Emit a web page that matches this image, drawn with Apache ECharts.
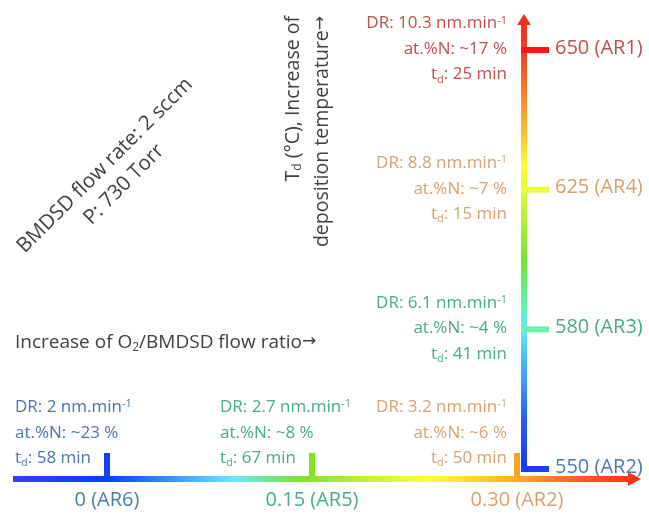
<!DOCTYPE html>
<html>
<head>
<meta charset="utf-8">
<script src="https://cdn.jsdelivr.net/npm/echarts/dist/echarts.min.js"></script>
<style>
html,body{margin:0;padding:0;background:#ffffff;}
#chart{width:649px;height:514px;}
</style>
</head>
<body>
<div id="chart"></div>
<script>
// ---------------- data ----------------
const ratioValues = [0, 0.15, 0.30];
const ratioLabels = ['0 (AR6)', '0.15 (AR5)', '0.30 (AR2)'];
const ratioDR = ['2', '2.7', '3.2'];
const ratioN = ['~23', '~8', '~6'];
const ratioTd = ['58', '67', '50'];

const tempCategories = ['550', '580', '625', '650'];
const tempLabels = ['550 (AR2)', '580 (AR3)', '625 (AR4)', '650 (AR1)'];
const tempDR = ['', '6.1', '8.8', '10.3'];
const tempN = ['', '~4', '~7', '~17'];
const tempTd = ['', '41', '15', '25'];

// ---------------- styles ----------------
const FONT = 'Open Sans';
const RED = '#c0504d', TAN = '#d6a272', GREEN = '#4aab88', BLUE = '#4f73ad', STEEL = '#4a7ea8', DARK = '#404040';
const ratioTickColors = ['#1a3cff', '#84e424', '#f7a423'];
const ratioLabelColors = [STEEL, GREEN, TAN];
const ratioBlockColors = [BLUE, GREEN, TAN];
const ratioBlockAlign = ['left', 'left', 'right'];
const tempTickColors = ['#1e3cff', '#6ff0b0', '#eeff3c', '#ff1414'];
const tempLabelColors = [STEEL, GREEN, TAN, RED];
const tempBlockColors = [null, GREEN, TAN, RED];

function blockText(dr, n, td) {
  return 'DR: ' + dr + ' nm.min{sup|-1}\nat.%N: ' + n + ' %\nt{sub|d}: ' + td + ' min';
}
function richFor(color, size) {
  return {
    sup: {fontSize: size, fontFamily: FONT, fill: color, padding: [0, 0, 6, 0]},
    sub: {fontSize: size, fontFamily: FONT, fill: color, padding: [10, 0, 0, 0]},
    arr: {fontSize: 17, fontFamily: 'DejaVu Sans', fill: color, padding: [0, 0, 2, 0]}
  };
}
function blockEl(x, y, align, vAlign, text, color) {
  return {
    type: 'text', x: x, y: y,
    style: {
      text: text, fill: color, fontSize: 17, fontFamily: FONT,
      align: align, verticalAlign: vAlign, lineHeight: 25.5,
      rich: richFor(color, 11)
    }
  };
}

const hGrad = [
  {offset: 0, color: '#3c3cf0'}, {offset: 0.15, color: '#0a3cff'},
  {offset: 0.35, color: '#6ee6ff'}, {offset: 0.46, color: '#80e030'},
  {offset: 0.66, color: '#ffff40'}, {offset: 0.80, color: '#ffb020'},
  {offset: 0.90, color: '#ff5a30'}, {offset: 1, color: '#ff2a10'}
];
const vGrad = [
  {offset: 0, color: '#e8321e'}, {offset: 0.08, color: '#f03c1e'},
  {offset: 0.19, color: '#ff8a2e'}, {offset: 0.336, color: '#ffff32'},
  {offset: 0.43, color: '#c4f23c'}, {offset: 0.54, color: '#6ee632'},
  {offset: 0.635, color: '#62f2b0'}, {offset: 0.69, color: '#64e6ff'},
  {offset: 0.78, color: '#44a8ff'}, {offset: 0.886, color: '#2462f2'},
  {offset: 1, color: '#1a32f4'}
];

function renderArrows(params, api) {
  const last = ratioValues.length - 1;
  const p0 = api.coord([ratioValues[0], 0]);
  const p1 = api.coord([ratioValues[last], 0]);
  const pTop = api.coord([ratioValues[last], tempCategories.length - 1]);
  const hy = p0[1] + 10;
  const hx0 = p0[0] - 94, hx1 = p1[0] + 111;
  const vx = p1[0] + 7;
  const vBottom = p0[1] + 3, vTop = pTop[1] - 25;
  return {
    type: 'group',
    children: [
      {
        type: 'polygon',
        shape: {points: [[hx0, hy - 3], [hx1, hy - 3], [hx1, hy - 7], [hx1 + 13, hy], [hx1, hy + 7], [hx1, hy + 3], [hx0, hy + 3]]},
        style: {fill: new echarts.graphic.LinearGradient(0, 0, 1, 0, hGrad)}
      },
      {
        type: 'polygon',
        shape: {points: [[vx - 3, vBottom], [vx - 3, vTop], [vx - 7, vTop], [vx, vTop - 11], [vx + 7, vTop], [vx + 3, vTop], [vx + 3, vBottom]]},
        style: {fill: new echarts.graphic.LinearGradient(0, 0, 0, 1, vGrad)}
      }
    ]
  };
}

function renderRatio(params, api) {
  const i = params.dataIndex;
  const pt = api.coord([api.value(0), api.value(1)]);
  const hy = pt[1] + 10;
  const children = [
    {type: 'rect', shape: {x: pt[0] - 3, y: hy - 26, width: 6, height: 24}, style: {fill: ratioTickColors[i]}},
    {type: 'text', x: pt[0], y: hy + 21,
     style: {text: ratioLabels[i], fill: ratioLabelColors[i], fontSize: 20, fontFamily: FONT, align: 'center', verticalAlign: 'middle'}}
  ];
  const bx = ratioBlockAlign[i] === 'left' ? pt[0] - 92 : pt[0] - 10;
  children.push(blockEl(bx, hy - 8, ratioBlockAlign[i], 'bottom', blockText(ratioDR[i], ratioN[i], ratioTd[i]), ratioBlockColors[i]));
  return {type: 'group', children: children};
}

function renderTemp(params, api) {
  const i = params.dataIndex;
  const pt = api.coord([api.value(0), api.value(1)]);
  const vx = pt[0] + 7;
  const y = pt[1];
  const children = [
    {type: 'rect', shape: {x: vx - 3, y: y - 3, width: 28, height: 6}, style: {fill: tempTickColors[i]}},
    {type: 'text', x: vx + 31, y: y - 2,
     style: {text: tempLabels[i], fill: tempLabelColors[i], fontSize: 20, fontFamily: FONT, align: 'left', verticalAlign: 'middle'}}
  ];
  if (tempDR[i]) {
    children.push(blockEl(vx - 17, y - 1, 'right', 'middle', blockText(tempDR[i], tempN[i], tempTd[i]), tempBlockColors[i]));
  }
  return {type: 'group', children: children};
}

const chart = echarts.init(document.getElementById('chart'));
chart.setOption({
  animation: false,
  backgroundColor: '#ffffff',
  grid: {left: 107, right: 132, top: 50, bottom: 45},
  xAxis: {type: 'value', min: ratioValues[0], max: ratioValues[ratioValues.length - 1], show: false},
  yAxis: {type: 'category', data: tempCategories, boundaryGap: false, show: false},
  series: [
    {type: 'custom', clip: false, silent: true, renderItem: renderArrows, encode: {x: 0, y: 1},
     data: [[ratioValues[0], 0]]},
    {type: 'custom', clip: false, silent: true, renderItem: renderRatio, encode: {x: 0, y: 1},
     data: ratioValues.map(v => [v, 0])},
    {type: 'custom', clip: false, silent: true, renderItem: renderTemp, encode: {x: 0, y: 1},
     data: tempCategories.map((c, i) => [ratioValues[ratioValues.length - 1], i])}
  ],
  graphic: [
    {type: 'text', x: 15, y: 343, silent: true,
     style: {text: 'Increase of O{sub|2}/BMDSD flow ratio{arr|\u2192}', fill: DARK, fontSize: 19, fontFamily: FONT,
             align: 'left', verticalAlign: 'middle', rich: richFor(DARK, 12)}},
    {type: 'text', x: 293, y: 16, rotation: Math.PI / 2, silent: true,
     style: {text: 'T{sub|d} (\u00b0C), Increase of', fill: DARK, fontSize: 19.5, fontFamily: FONT,
             align: 'right', verticalAlign: 'middle', rich: richFor(DARK, 12)}},
    {type: 'text', x: 322, y: 16, rotation: Math.PI / 2, silent: true,
     style: {text: 'deposition temperature{arr|\u2192}', fill: DARK, fontSize: 19.5, fontFamily: FONT,
             align: 'right', verticalAlign: 'middle', rich: richFor(DARK, 12)}},
    {type: 'text', x: 114.5, y: 175, rotation: Math.PI / 4, silent: true,
     style: {text: 'BMDSD flow rate: 2 sccm\nP: 730 Torr', fill: DARK, fontSize: 20.5, fontFamily: FONT,
             align: 'center', verticalAlign: 'middle', lineHeight: 27}}
  ]
});
</script>
</body>
</html>
